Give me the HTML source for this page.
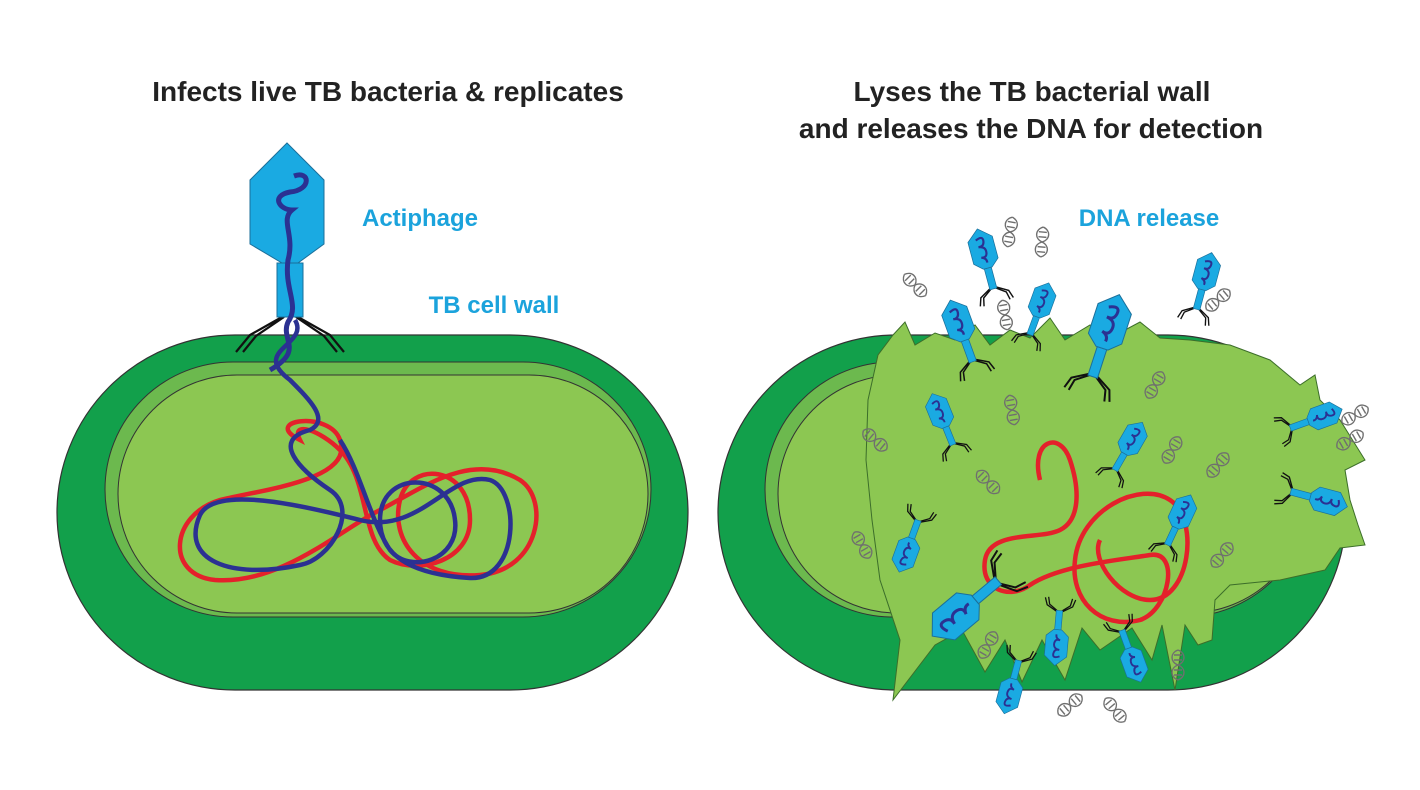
<!DOCTYPE html>
<html><head><meta charset="utf-8"><style>
html,body{margin:0;padding:0;background:#fff;}
svg{display:block;}
text{font-family:"Liberation Sans",sans-serif;font-weight:bold;}
</style></head><body>
<svg width="1420" height="790" viewBox="0 0 1420 790" xmlns="http://www.w3.org/2000/svg">
<defs>
<g id="ph">
<path d="M-4,-8 L-16,-1 L-19,8 M-2,-8 L-13,0 L-15,9 M4,-8 L16,-1 L19,8 M2,-8 L13,0 L15,9" stroke="#111" stroke-width="1.6" fill="none"/>
<rect x="-4" y="-31" width="8" height="24" fill="#1aaae2" stroke="#1b6f9a" stroke-width="0.8"/>
<polygon points="0,-76 14,-64 14,-39 5,-31 -5,-31 -14,-39 -14,-64" fill="#1aaae2" stroke="#1b6f9a" stroke-width="0.8"/>
<path d="M-5,-64 q9,-4 8,3 q-1,6 -7,5 q8,1 7,8 q-1,6 -7,4 q6,2 5,7" stroke="#2b3192" stroke-width="2.4" fill="none"/>
</g>
<g id="dna" stroke="#6f6f6f" stroke-width="1.4" fill="none">
<path d="M0,-15 C8,-12 8,-3 0,0 C-8,3 -8,12 0,15"/>
<path d="M0,-15 C-8,-12 -8,-3 0,0 C8,3 8,12 0,15"/>
<path d="M-4,-10 h8 M-4,-5 h8 M-4,5 h8 M-4,10 h8"/>
</g>
</defs>

<text x="388" y="101" font-size="28" text-anchor="middle" fill="#222">Infects live TB bacteria &amp; replicates</text>
<text x="1032" y="101" font-size="28" text-anchor="middle" fill="#222">Lyses the TB bacterial wall</text>
<text x="1031" y="138" font-size="28" text-anchor="middle" fill="#222">and releases the DNA for detection</text>
<text x="420" y="226" font-size="24" text-anchor="middle" fill="#1ba3dc">Actiphage</text>
<text x="494" y="313" font-size="24" text-anchor="middle" fill="#1ba3dc">TB cell wall</text>
<text x="1149" y="226" font-size="24" text-anchor="middle" fill="#1ba3dc">DNA release</text>

<!-- left cell -->
<rect x="57" y="335" width="631" height="355" rx="178" fill="#12a04b" stroke="#333" stroke-width="1.2"/>
<rect x="105" y="362" width="546" height="255" rx="128" fill="#6cb94e" stroke="#333" stroke-width="1"/>
<rect x="118" y="375" width="530" height="238" rx="119" fill="#8cc752" stroke="#333" stroke-width="1"/>
<!-- left loops -->
<path d="M300,440 C260,420 330,410 340,440 C355,480 260,490 220,500 C170,515 165,575 215,580 C280,585 340,530 380,510 C420,490 470,450 520,480 C550,500 540,570 480,575 C420,580 390,540 400,500 C410,460 470,465 470,520 C470,560 420,575 390,560 C360,540 370,480 340,450 C320,430 290,420 300,440Z" stroke="#e4212b" stroke-width="4.5" fill="none"/>
<path d="M295,320 C310,345 250,350 290,380 C310,400 330,420 310,430 C270,440 300,470 330,490 C360,510 330,560 300,565 C230,580 180,560 200,515 C215,485 300,505 360,520 C420,535 450,470 490,480 C520,490 520,580 470,578 C420,575 380,560 380,520 C380,470 450,470 455,520 C460,560 410,575 390,550 C370,520 360,470 340,440" stroke="#2b3192" stroke-width="4.5" fill="none"/>
<!-- left phage -->
<g>
<path d="M282,317 L250,335 L236,352 M284,317 L256,336 L243,352 M298,317 L330,335 L344,352 M296,317 L324,336 L337,352" stroke="#111" stroke-width="2.2" fill="none"/>
<rect x="277" y="263" width="26" height="54" fill="#1aaae2" stroke="#1b6f9a"/>
<polygon points="287,143 324,180 324,244 298,263 282,263 250,244 250,180" fill="#1aaae2" stroke="#1b6f9a"/>
<path d="M294,176 C310,170 312,190 290,192 C270,196 280,210 292,210 C280,220 295,235 288,260 C284,290 300,305 288,322 C280,340 305,350 270,370" stroke="#2b3192" stroke-width="5" fill="none"/>
</g>

<!-- right cell -->
<rect x="718" y="335" width="628" height="355" rx="178" fill="#12a04b" stroke="#333" stroke-width="1.2"/>
<rect x="765" y="362" width="546" height="255" rx="128" fill="#6cb94e" stroke="#333" stroke-width="1"/>
<rect x="778" y="375" width="530" height="238" rx="119" fill="#8cc752" stroke="#333" stroke-width="1"/>
<polygon fill="#8cc752" stroke="#3c6e2a" stroke-width="1" points="893,335 905,322 915,345 935,333 955,340 975,325 990,345 1010,330 1030,338 1050,318 1065,340 1090,325 1110,338 1140,322 1160,338 1190,340 1230,345 1270,360 1300,385 1315,375 1320,400 1340,420 1365,460 1345,470 1350,500 1358,525 1365,545 1340,548 1325,570 1280,580 1230,585 1215,600 1212,640 1198,645 1185,625 1175,690 1162,625 1152,660 1132,628 1100,650 1082,628 1065,680 1042,640 1022,682 1005,640 985,672 962,630 935,645 893,700 900,640 880,580 872,520 866,460 868,400 878,355"/>
<path d="M1040,480 C1030,440 1060,430 1070,460 C1080,490 1080,520 1060,530 C1040,540 990,530 985,560 C980,590 1010,600 1030,585 C1060,565 1120,560 1150,555 C1180,550 1170,610 1140,620 C1100,630 1070,600 1075,560 C1080,510 1140,480 1170,500 C1200,520 1190,600 1150,600 C1120,600 1090,560 1100,540" stroke="#e4212b" stroke-width="4.5" fill="none"/>

<!-- DNA icons -->
<use href="#dna" transform="translate(1010,232) rotate(10)"/>
<use href="#dna" transform="translate(1042,242) rotate(5)"/>
<use href="#dna" transform="translate(915,285) rotate(-45)"/>
<use href="#dna" transform="translate(1005,315) rotate(-10)"/>
<use href="#dna" transform="translate(1218,300) rotate(50)"/>
<use href="#dna" transform="translate(1012,410) rotate(-10)"/>
<use href="#dna" transform="translate(1155,385) rotate(30)"/>
<use href="#dna" transform="translate(875,440) rotate(-50)"/>
<use href="#dna" transform="translate(988,482) rotate(-45)"/>
<use href="#dna" transform="translate(1172,450) rotate(30)"/>
<use href="#dna" transform="translate(1218,465) rotate(40)"/>
<use href="#dna" transform="translate(862,545) rotate(-30)"/>
<use href="#dna" transform="translate(1222,555) rotate(40)"/>
<use href="#dna" transform="translate(988,645) rotate(30)"/>
<use href="#dna" transform="translate(1178,665) rotate(0)"/>
<use href="#dna" transform="translate(1070,705) rotate(50)"/>
<use href="#dna" transform="translate(1115,710) rotate(-40)"/>
<use href="#dna" transform="translate(1355,415) rotate(60)"/>
<use href="#dna" transform="translate(1350,440) rotate(60)"/>

<!-- phages -->
<use href="#ph" transform="translate(995,295) scale(0.9) rotate(-15)"/>
<use href="#ph" transform="translate(1195,315) scale(0.85) rotate(15)"/>
<use href="#ph" transform="translate(975,368) scale(0.95) rotate(-20)"/>
<use href="#ph" transform="translate(1028,340) scale(0.8) rotate(20)"/>
<use href="#ph" transform="translate(1090,385) scale(1.25) rotate(18)"/>
<use href="#ph" transform="translate(955,450) scale(0.8) rotate(-22)"/>
<use href="#ph" transform="translate(1112,475) scale(0.8) rotate(30)"/>
<use href="#ph" transform="translate(1285,430) scale(0.8) rotate(70)"/>
<use href="#ph" transform="translate(1285,490) scale(0.85) rotate(105)"/>
<use href="#ph" transform="translate(1165,550) scale(0.8) rotate(25)"/>
<use href="#ph" transform="translate(920,515) scale(0.8) rotate(200)"/>
<use href="#ph" transform="translate(1005,575) scale(1.25) rotate(230)"/>
<use href="#ph" transform="translate(1060,605) scale(0.8) rotate(185)"/>
<use href="#ph" transform="translate(1120,625) scale(0.8) rotate(160)"/>
<use href="#ph" transform="translate(1020,655) scale(0.8) rotate(195)"/>
</svg>
</body></html>
